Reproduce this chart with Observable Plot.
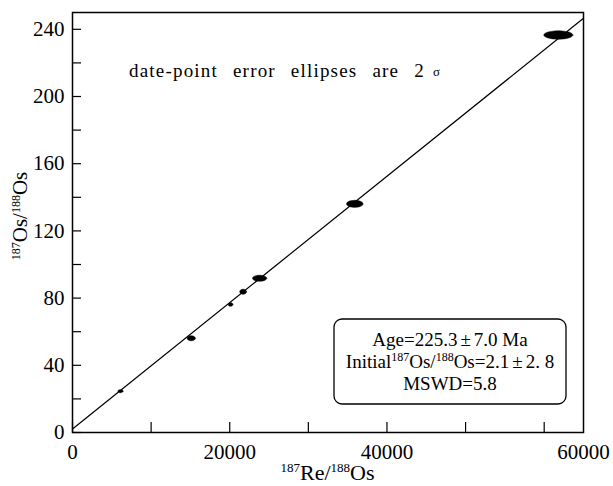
<!DOCTYPE html>
<html><head><meta charset="utf-8">
<script src="https://cdn.jsdelivr.net/npm/d3@7"></script>
<script src="https://cdn.jsdelivr.net/npm/@observablehq/plot@0.6"></script>
<style>
html,body{margin:0;padding:0;background:#fff}
#chart svg, #chart svg text, #chart svg tspan{font-family:"Liberation Serif","Times New Roman",serif !important}
</style>
</head><body><div id="chart"></div>
<script>
// ---- data ----
const reOs   = [6100, 15100, 20100, 21700, 23800, 35900, 61800];   // 187Re/188Os
const osOs   = [24.6, 56.1, 76.2, 83.8, 91.8, 136.1, 236.6];       // 187Os/188Os
const errRe  = [330, 520, 300, 430, 900, 1050, 1850];             // 2σ half-axis (x units)
const errOs  = [0.9, 1.5, 1.1, 1.5, 1.8, 2.1, 2.5];               // 2σ half-axis (y units)

const xTicks = [0, 10000, 20000, 30000, 40000, 50000, 60000];
const xTickLabelPos = [0, 20000, 40000, 65000];
const xTickLabels = ["0", "20000", "40000", "60000"];
const yTicks = [0, 20, 40, 60, 80, 100, 120, 140, 160, 180, 200, 220, 240];
const yTickLabels = [0, 40, 80, 120, 160, 200, 240];

const age = 225.3, ageErr = 7.0, initialOs = 2.1, initialErr = 2.8, mswd = 5.8;
const lambda187 = 1.666e-11;
const xMax = 65000, yMax = 250;

// ---- derived tables ----
const slope = Math.exp(lambda187 * age * 1e6) - 1;
const isochron = [0, xMax].map(x => ({x, y: initialOs + slope * x}));
const ellipses = [];
reOs.forEach((cx, i) => {
  for (let k = 0; k < 48; k++) {
    const t = (k / 48) * 2 * Math.PI;
    ellipses.push({id: i, x: cx + errRe[i] * Math.cos(t), y: osOs[i] + errOs[i] * Math.sin(t)});
  }
});

const W = 613, H = 486, mL = 72, mR = 30, mT = 12, mB = 54;
const innerW = W - mL - mR, innerH = H - mT - mB;

const plot = Plot.plot({
  width: W, height: H,
  marginLeft: mL, marginRight: mR, marginTop: mT, marginBottom: mB,
  style: {fontFamily: '"Liberation Serif", "Times New Roman", serif', fontSize: "21px", color: "black", background: "white", overflow: "visible"},
  x: {domain: [0, xMax]},
  y: {domain: [0, yMax]},
  marks: [
    Plot.ruleY(yTicks, {stroke: "black", strokeWidth: 1.2, insetRight: innerW - 9}),
    Plot.ruleX(xTicks, {stroke: "black", strokeWidth: 1.2, insetTop: innerH - 10}),
    Plot.axisY({ticks: yTickLabels, tickSize: 0, tickPadding: 8, label: null, tickFormat: d => `${d}`, fontSize: 21}),
    Plot.axisX({ticks: xTickLabelPos, tickSize: 0, tickPadding: 12, label: null,
      tickFormat: d => xTickLabels[xTickLabelPos.indexOf(d)], fontSize: 21}),
    Plot.line(isochron, {x: "x", y: "y", stroke: "black", strokeWidth: 1.2}),
    Plot.line(ellipses, {x: "x", y: "y", z: "id", fill: "black", stroke: "black", strokeWidth: 0.5, curve: "linear-closed"}),
    Plot.frame({stroke: "black", strokeWidth: 1.5})
  ]
});

const svg = d3.select(plot);

function sup(t, s, size) {
  t.append("tspan").attr("font-size", size).attr("dy", -size * 0.6).text(s);
}
function base(t, s, size, dx = 0) {
  t.append("tspan").attr("dy", size * 0.6).attr("dx", dx).text(s);
}

// annotation
svg.append("text").attr("x", 129).attr("y", 77).attr("font-size", 19).attr("text-anchor", "start")
  .attr("letter-spacing", 1.2).attr("word-spacing", 9)
  .text("date-point error ellipses are 2");
svg.append("text").attr("x", 433).attr("y", 76).attr("font-size", 13).attr("text-anchor", "start").text("σ");

// result box
svg.append("rect").attr("x", 334).attr("y", 319).attr("width", 232).attr("height", 85)
  .attr("rx", 8).attr("fill", "white").attr("stroke", "black").attr("stroke-width", 1.3);
const cx = 450;
const pm = (t, a, b) => {
  t.append("tspan").text(a);
  t.append("tspan").attr("dx", 3).text("±");
  t.append("tspan").attr("dx", 3).text(b);
};
const l1 = svg.append("text").attr("x", cx).attr("y", 346).attr("text-anchor", "middle").attr("font-size", 19);
pm(l1, `Age=${age.toFixed(1)}`, `${ageErr.toFixed(1)} Ma`);
const l2 = svg.append("text").attr("x", cx).attr("y", 368).attr("text-anchor", "middle").attr("font-size", 19);
l2.append("tspan").text("Initial");
sup(l2, "187", 12); base(l2, "Os/", 12);
sup(l2, "188", 12); l2.append("tspan").attr("dy", 12 * 0.6).text(`Os=${initialOs.toFixed(1)}`);
l2.append("tspan").attr("dx", 3).text("±");
l2.append("tspan").attr("dx", 3).text(initialErr.toFixed(1).replace(".", ". "));
svg.append("text").attr("x", cx).attr("y", 390).attr("text-anchor", "middle").attr("font-size", 19)
  .text(`MSWD=${mswd.toFixed(1)}`);

// axis labels
const xl = svg.append("text").attr("x", mL + innerW / 2).attr("y", 480).attr("text-anchor", "middle").attr("font-size", 22);
sup(xl, "187", 13); base(xl, "Re/", 13); sup(xl, "188", 13); base(xl, "Os", 13);
const yl = svg.append("text").attr("transform", `translate(27,216) rotate(-90)`)
  .attr("text-anchor", "middle").attr("font-size", 21);
sup(yl, "187", 12); base(yl, "Os/", 12); sup(yl, "188", 12); base(yl, "Os", 12);

document.getElementById("chart").appendChild(plot);
</script>
</body></html>
